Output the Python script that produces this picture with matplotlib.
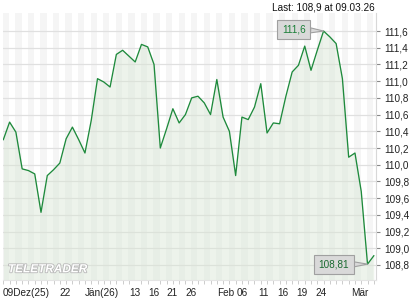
import matplotlib
matplotlib.use("Agg")
import matplotlib.pyplot as plt
import matplotlib.patheffects as pe
import numpy as np

plt.rcParams['font.family'] = ['Liberation Sans', 'DejaVu Sans']

values = [110.30, 110.51, 110.39, 109.95, 109.93, 109.89, 109.43, 109.87, 109.94, 110.02,
          110.31, 110.45, 110.30, 110.14, 110.53, 111.03, 110.99, 110.93, 111.32, 111.37,
          111.30, 111.23, 111.44, 111.41, 111.20, 110.20, 110.43, 110.67, 110.50, 110.60,
          110.80, 110.82, 110.74, 110.60, 111.02, 110.57, 110.40, 109.87, 110.57, 110.54,
          110.69, 110.97, 110.38, 110.50, 110.49, 110.82, 111.11, 111.19, 111.42, 111.13,
          111.37, 111.60, 111.53, 111.45, 111.03, 110.09, 110.14, 109.68, 108.81, 108.91]
x_labels = ["09Dez(25)", "22", "J\u00e4n(26)", "13", "16", "21", "26", "Feb", "06", "11",
            "16", "19", "24", "M\u00e4r"]
x_label_pos = [-0.05, 9.9, 15.7, 21.0, 24.0, 26.9, 29.9, 35.4, 38.1, 41.4, 44.6, 47.5, 50.6, 56.8]
y_ticks = [108.8, 109.0, 109.2, 109.4, 109.6, 109.8, 110.0, 110.2, 110.4, 110.6, 110.8,
           111.0, 111.2, 111.4, 111.6]
last_text = "Last: 108,9 at 09.03.26"
high_label = "111,6"
low_label = "108,81"

W, H = 420, 300
fig = plt.figure(figsize=(W / 100, H / 100), dpi=100)
ax = fig.add_axes([2.7 / W, 20 / H, (376 - 2.7) / W, (280 - 13) / H])

n = len(values)
x = np.arange(n)
ax.set_xlim(-0.1, 59.35)
ax.set_ylim(108.62, 111.816)

# stripes
for i in range(-1, n + 1):
    if i % 2 == 0:
        ax.axvspan(i - 0.1, i + 0.9, color='#f5f5f5', lw=0, zorder=0)

for yv in y_ticks:
    ax.axhline(yv, color='#e0e0e0', lw=0.9, zorder=1)

ax.fill_between(x, values, 108.62, color='#d8e6d4', alpha=0.45, lw=0, zorder=2)
ax.plot(x, values, color='#1e8a3c', lw=0.95, zorder=3)

# axes styling
for s in ['top', 'left']:
    ax.spines[s].set_visible(False)
ax.spines['right'].set_color('#d8d8d8')
ax.spines['bottom'].set_color('#e4e4e4')
ax.spines['right'].set_linewidth(0.8)
ax.spines['bottom'].set_linewidth(0.8)

ax.yaxis.tick_right()
ax.set_yticks(y_ticks)
ax.set_yticklabels([f"{v:.1f}".replace('.', ',') for v in y_ticks])
ax.tick_params(axis='y', which='major', length=3, color='#888888', pad=3,
               labelsize=7.2, labelcolor='#222222', width=0.8)

ax.set_xticks(x_label_pos)
ax.set_xticklabels(x_labels)
ax.set_xticks(np.arange(n), minor=True)
ax.tick_params(axis='x', which='major', length=0, pad=6, labelsize=7.2, labelcolor='#222222')
ax.tick_params(axis='x', which='minor', length=3, color='#cccccc', width=0.7)
ax.get_xticklabels()[0].set_ha('left')

# annotations
imax = int(np.argmax(values))
imin = int(np.argmin(values))
ax.annotate(high_label, xy=(imax, values[imax]), xytext=(-21.4, 1.1), textcoords='offset points',
            ha='center', va='center', fontsize=7.2, color='#1a7f37',
            bbox=dict(boxstyle='square,pad=0.45', fc='#d9d9d9', ec='#a0a0a0', lw=0.8),
            arrowprops=dict(arrowstyle='wedge,tail_width=0.5', fc='#d9d9d9', ec='#a0a0a0', lw=0.8,
                            shrinkA=0, shrinkB=0), zorder=5)
ax.annotate(low_label, xy=(imin, values[imin]), xytext=(-24.3, -0.4), textcoords='offset points',
            ha='center', va='center', fontsize=7.2, color='#1a6a30',
            bbox=dict(boxstyle='square,pad=0.45', fc='#d9d9d9', ec='#a0a0a0', lw=0.8),
            arrowprops=dict(arrowstyle='wedge,tail_width=0.5', fc='#d9d9d9', ec='#a0a0a0', lw=0.8,
                            shrinkA=0, shrinkB=0), zorder=5)

# logo
ax.text(0.014, 0.04, "TELETRADER", transform=ax.transAxes, fontsize=8.5, fontweight='bold',
        style='italic', color='white', ha='left', va='center', zorder=4,
        path_effects=[pe.withStroke(linewidth=1.2, foreground='#b8b8b8')])

fig.text(375 / W, 1 - 7.5 / H, last_text, ha='right', va='center', fontsize=7.2, color='#111111')

fig.savefig("out.png", dpi=100)
